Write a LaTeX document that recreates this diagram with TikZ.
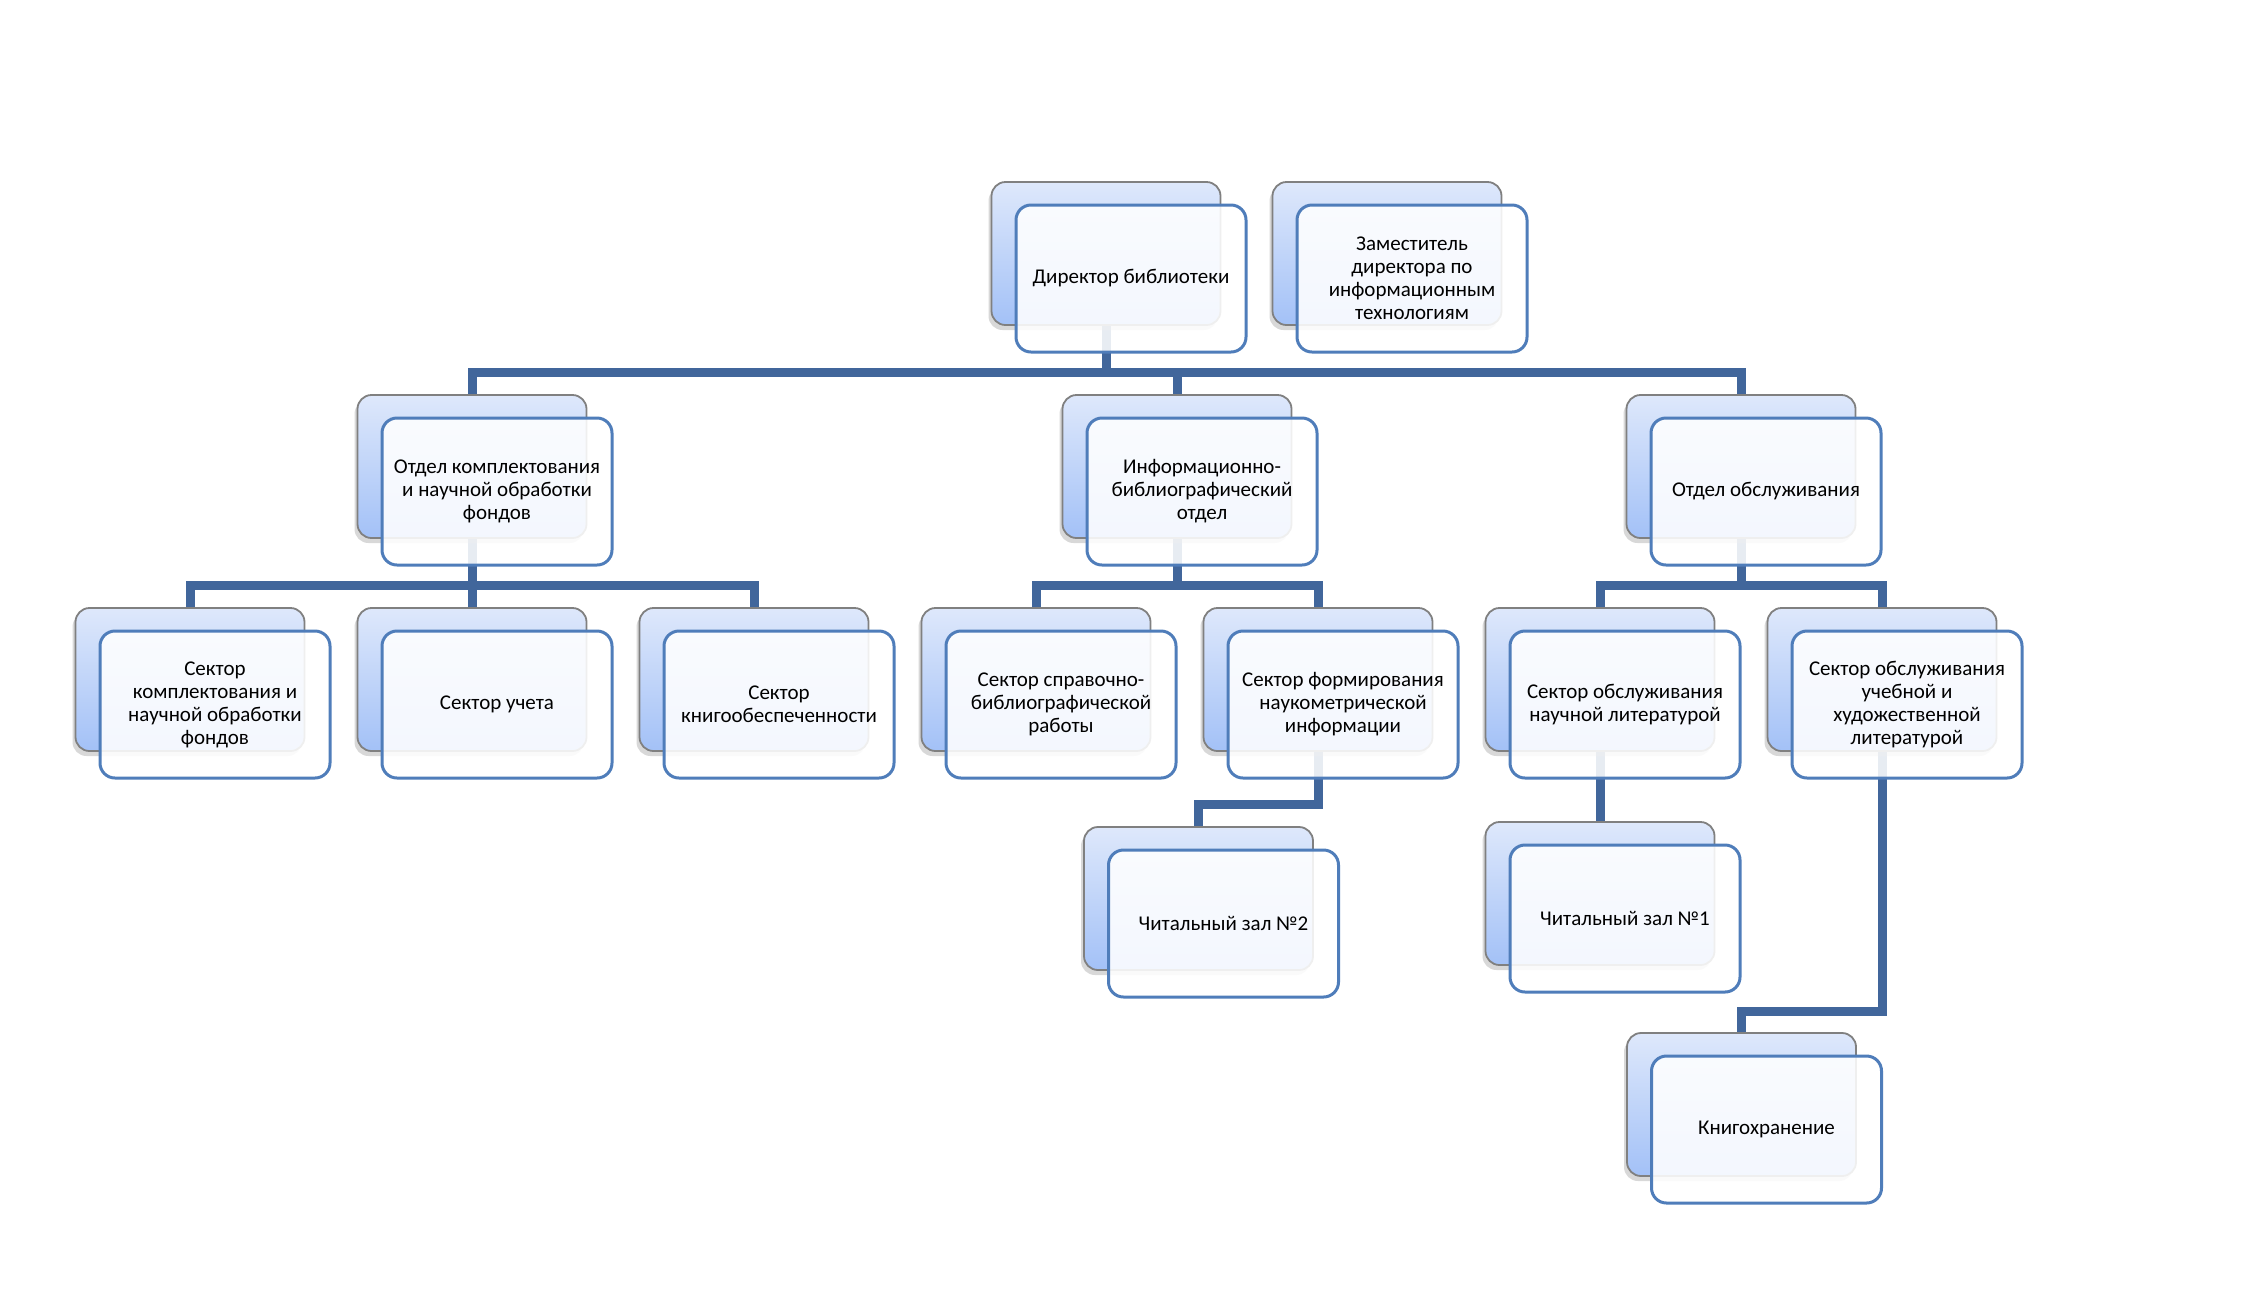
\documentclass[tikz,border=0pt]{standalone}
\usepackage{fontspec}
\setmainfont{Carlito}
\usetikzlibrary{shadows}
\definecolor{linecol}{HTML}{41669B}
\definecolor{framecol}{HTML}{4F7DBA}
\definecolor{topblue}{HTML}{DEE8FB}
\definecolor{botblue}{HTML}{A3C1F7}
\pgfdeclarelayer{bg}
\pgfsetlayers{bg,main}
\begin{document}
\begin{tikzpicture}[x=0.5pt,y=-0.5pt,
        backbox/.style={draw=black!50, line width=0.9pt, rounded corners=7pt,
            minimum width=114.5pt, minimum height=71.5pt,
            top color=topblue, bottom color=botblue,
            drop shadow={shadow xshift=-1.5pt, shadow yshift=-2.5pt, opacity=0.3}},
        unitbox/.style={draw=framecol, line width=1.5pt, rounded corners=7.5pt,
            fill=white, fill opacity=0.88, text opacity=1,
            minimum width=115pt, minimum height=73.5pt, inner sep=2pt,
            align=center, font=\fontsize{10.5}{11.5}\selectfont},
        link/.style={draw=linecol, line width=4.5pt}]
            \useasboundingbox (0,0) rectangle (2243,1313);

            \node[backbox] (dirB) at (1106, 253.5) {};
            \node[backbox] (zamB) at (1387, 253.5) {};

            \node[backbox] (otkB) at (472, 466.5) {};
            \node[backbox] (ibB)  at (1177, 466.5) {};
            \node[backbox] (obsB) at (1741, 466.5) {};

            \node[backbox] (kompB) at (190, 679.5) {};
            \node[backbox] (uchB)  at (472, 679.5) {};
            \node[backbox] (knobB) at (754, 679.5) {};
            \node[backbox] (sprB)  at (1036, 679.5) {};
            \node[backbox] (formB) at (1318, 679.5) {};
            \node[backbox] (nauB)  at (1600, 679.5) {};
            \node[backbox] (hudB)  at (1882, 679.5) {};

            \node[backbox] (zal2B) at (1198.5, 898.5) {};
            \node[backbox] (zal1B) at (1600, 893.5) {};
            \node[backbox] (hranB) at (1741.5, 1104.5) {};

            \begin{pgfonlayer}{bg}
                \fill[white] (0,0) rectangle (2243,1313);
                \foreach \c in {otkB, ibB, obsB}
                    \draw[link] (dirB.south) -- ++(0,47) -| (\c.north);
                \foreach \c in {kompB, uchB, knobB}
                    \draw[link] (otkB.south) -- ++(0,47) -| (\c.north);
                \foreach \c in {sprB, formB}
                    \draw[link] (ibB.south) -- ++(0,47) -| (\c.north);
                \foreach \c in {nauB, hudB}
                    \draw[link] (obsB.south) -- ++(0,47) -| (\c.north);
                \draw[link] (formB.south) -- ++(0,53) -| (zal2B.north);
                \draw[link] (nauB.south) -- (zal1B.north);
                \draw[link] (hudB.south) -- ++(0,260) -| (hranB.north);
            \end{pgfonlayer}

            \node[unitbox] (dir) at (1131, 278.5) {Директор библиотеки};
            \node[unitbox] (zam) at (1412, 278.5) {Заместитель\\директора по\\информационным\\технологиям};

            \node[unitbox] (otk) at (497, 491.5) {Отдел комплектования\\и научной обработки\\фондов};
            \node[unitbox] (ib)  at (1202, 491.5) {Информационно-\\библиографический\\отдел};
            \node[unitbox] (obs) at (1766, 491.5) {Отдел обслуживания};

            \node[unitbox] (komp) at (215, 704.5) {Сектор\\комплектования и\\научной обработки\\фондов};
            \node[unitbox] (uch)  at (497, 704.5) {Сектор учета};
            \node[unitbox] (knob) at (779, 704.5) {Сектор\\книгообеспеченности};
            \node[unitbox] (spr)  at (1061, 704.5) {Сектор справочно-\\библиографической\\работы};
            \node[unitbox] (form) at (1343, 704.5) {Сектор формирования\\наукометрической\\информации};
            \node[unitbox] (nau)  at (1625, 704.5) {Сектор обслуживания\\научной литературой};
            \node[unitbox] (hud)  at (1907, 704.5) {Сектор обслуживания\\учебной и\\художественной\\литературой};

            \node[unitbox] (zal2) at (1223.5, 923.5) {Читальный зал №2};
            \node[unitbox] (zal1) at (1625, 918.5) {Читальный зал №1};
            \node[unitbox] (hran) at (1766.5, 1129.5) {Книгохранение};
        \end{tikzpicture}
\end{document}
